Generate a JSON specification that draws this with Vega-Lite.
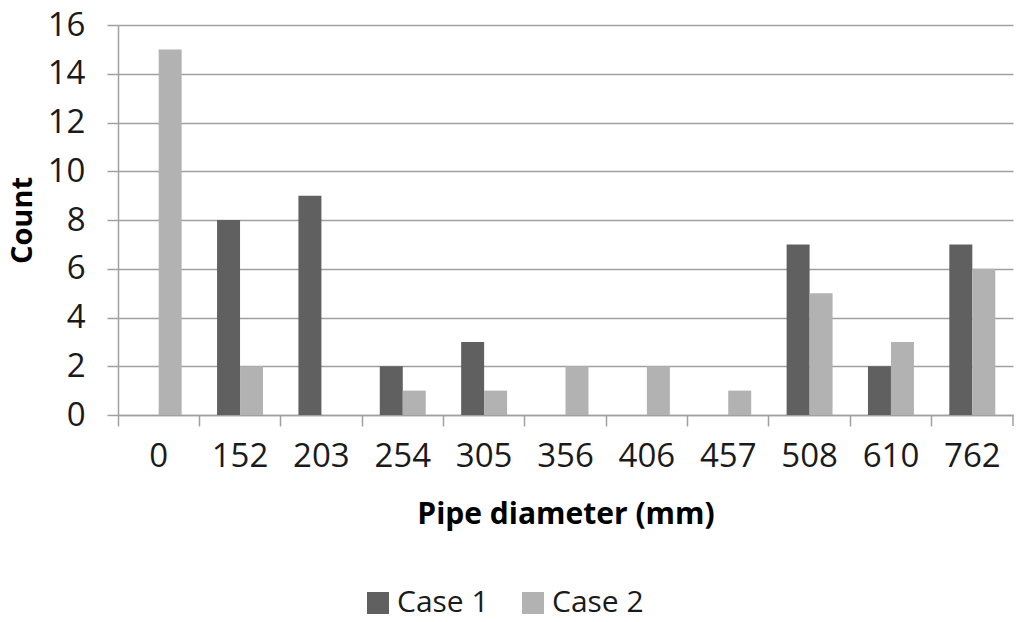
{
  "$schema": "https://vega.github.io/schema/vega-lite/v6.json",
  "autosize": "none",
  "width": 895,
  "height": 390,
  "padding": {"left": 118, "top": 25, "right": 11, "bottom": 207},
  "background": "white",
  "config": {
    "font": "Open Sans",
    "view": {"stroke": null},
    "axis": {"labelFont": "Open Sans", "titleFont": "Open Sans", "labelColor": "#1a1a1a", "titleColor": "#000000"}
  },
  "data": {
    "values": [
      {"d": "0", "case": "Case 1", "count": 0},
      {"d": "0", "case": "Case 2", "count": 15},
      {"d": "152", "case": "Case 1", "count": 8},
      {"d": "152", "case": "Case 2", "count": 2},
      {"d": "203", "case": "Case 1", "count": 9},
      {"d": "203", "case": "Case 2", "count": 0},
      {"d": "254", "case": "Case 1", "count": 2},
      {"d": "254", "case": "Case 2", "count": 1},
      {"d": "305", "case": "Case 1", "count": 3},
      {"d": "305", "case": "Case 2", "count": 1},
      {"d": "356", "case": "Case 1", "count": 0},
      {"d": "356", "case": "Case 2", "count": 2},
      {"d": "406", "case": "Case 1", "count": 0},
      {"d": "406", "case": "Case 2", "count": 2},
      {"d": "457", "case": "Case 1", "count": 0},
      {"d": "457", "case": "Case 2", "count": 1},
      {"d": "508", "case": "Case 1", "count": 7},
      {"d": "508", "case": "Case 2", "count": 5},
      {"d": "610", "case": "Case 1", "count": 2},
      {"d": "610", "case": "Case 2", "count": 3},
      {"d": "762", "case": "Case 1", "count": 7},
      {"d": "762", "case": "Case 2", "count": 6}
    ]
  },
  "layer": [
    {
      "mark": {"type": "bar"},
      "encoding": {
        "x": {
          "field": "d",
          "type": "ordinal",
          "sort": ["0", "152", "203", "254", "305", "356", "406", "457", "508", "610", "762"],
          "scale": {"paddingInner": 0, "paddingOuter": 0},
          "axis": {
            "title": "Pipe diameter (mm)",
            "labelAngle": 0,
            "bandPosition": 0,
            "labelFontSize": 33,
            "labelPadding": 14,
            "tickSize": 11,
            "tickColor": "#a0a0a0",
            "tickWidth": 1.5,
            "domainColor": "#a0a0a0",
            "domainWidth": 1.5,
            "grid": false,
            "titleFontSize": 30,
            "titleFontWeight": "bold",
            "titlePadding": 26
          }
        },
        "xOffset": {"field": "case", "type": "nominal", "scale": {"paddingInner": 0, "paddingOuter": 0.77}},
        "y": {
          "field": "count",
          "type": "quantitative",
          "scale": {"domain": [0, 16]},
          "axis": {
            "title": "Count",
            "values": [0, 2, 4, 6, 8, 10, 12, 14, 16],
            "labelFontSize": 33,
            "labelPadding": 22,
            "tickSize": 11,
            "tickColor": "#a0a0a0",
            "tickWidth": 1.5,
            "domainColor": "#a0a0a0",
            "domainWidth": 1.5,
            "gridColor": "#a0a0a0",
            "gridWidth": 1.5,
            "titleFontSize": 29,
            "titleFontWeight": "bold",
            "titlePadding": 10
          }
        },
        "color": {
          "field": "case",
          "type": "nominal",
          "scale": {"domain": ["Case 1", "Case 2"], "range": ["#606060", "#b2b2b2"]},
          "legend": {
            "title": null,
            "orient": "none",
            "legendX": 245,
            "legendY": 563,
            "direction": "horizontal",
            "symbolType": "square",
            "symbolSize": 484,
            "symbolStrokeWidth": 0,
            "labelFontSize": 30,
            "labelFont": "Open Sans",
            "labelColor": "#1a1a1a",
            "columnPadding": 29,
            "symbolOffset": 0
          }
        }
      }
    },
    {
      "transform": [{"filter": "datum.d == '762' && datum.case == 'Case 2'"}],
      "mark": {"type": "rule", "color": "#a0a0a0", "strokeWidth": 1.5, "clip": false},
      "encoding": {
        "x": {"field": "d", "type": "ordinal", "bandPosition": 1, "sort": ["0", "152", "203", "254", "305", "356", "406", "457", "508", "610", "762"]},
        "y": {"datum": 0},
        "y2": {"datum": -0.45}
      }
    }
  ]
}
